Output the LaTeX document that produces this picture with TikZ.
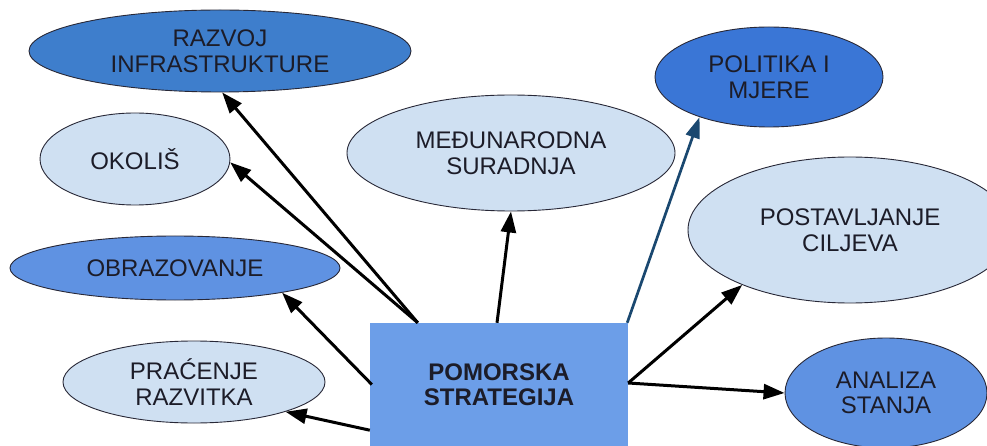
\documentclass[tikz,border=0pt]{standalone}
\usepackage{fontspec}
\setmainfont{Liberation Sans}
\usetikzlibrary{shapes.geometric,arrows.meta,calc}
\definecolor{darkblue}{RGB}{62,126,204}
\definecolor{polblue}{RGB}{58,118,214}
\definecolor{midblue}{RGB}{95,146,226}
\definecolor{lightblue}{RGB}{207,224,242}
\definecolor{rectblue}{RGB}{108,158,232}
\definecolor{txt}{RGB}{28,28,40}
\definecolor{edge}{RGB}{40,40,55}
\definecolor{teal}{RGB}{26,72,112}
\tikzset{
  oval/.style={ellipse, draw=edge, line width=0.9pt, inner sep=0pt, align=center,
    text=txt, font=\fontsize{24}{25.5}\selectfont},
  conn/.style={line width=3pt, draw=black, -{Triangle[length=21pt,width=15pt]}},
  tealconn/.style={line width=2.7pt, draw=teal, -{Triangle[length=21pt,width=14pt]}},
}
\begin{document}
\begin{tikzpicture}[x=1pt,y=-1pt]
\useasboundingbox (0,0) rectangle (987,446);
\fill[white] (0,0) rectangle (987,446);
% ellipses
\node[oval, fill=darkblue, minimum width=382pt, minimum height=82pt] (raz) at (220,51) {RAZVOJ\\INFRASTRUKTURE};
\node[oval, fill=lightblue, minimum width=190pt, minimum height=92pt] (oko) at (135,159) {OKOLIŠ};
\node[oval, fill=lightblue, minimum width=328pt, minimum height=116pt] (med) at (511,153) {MEĐUNARODNA\\SURADNJA};
\node[oval, fill=polblue, minimum width=228pt, minimum height=100pt] (pol) at (769,77) {POLITIKA I\\MJERE};
\node[oval, fill=lightblue, minimum width=324pt, minimum height=146pt] (pos) at (850,230) {POSTAVLJANJE\\CILJEVA};
\node[oval, fill=midblue, minimum width=330pt, minimum height=64pt] (obr) at (175,268) {OBRAZOVANJE};
\node[oval, fill=lightblue, minimum width=262pt, minimum height=82pt] (pra) at (194,382) {PRAĆENJE\\RAZVITKA};
\node[oval, fill=midblue, minimum width=202pt, minimum height=110pt] (ana) at (886,393) {ANALIZA\\STANJA};
% central rectangle
\node[rectangle, fill=rectblue, minimum width=258pt, minimum height=123pt, inner sep=0pt,
  align=center, text=txt, font=\bfseries\fontsize{24}{25.5}\selectfont] (s) at (499,384.5) {POMORSKA\\STRATEGIJA};
% start points
\coordinate (s1) at ($(s.north west)+(48,0)$);
\coordinate (s2) at ($(s.west)+(2,0)$);
\coordinate (s3) at ($(s.south west)+(0,-16)$);
\coordinate (s4) at ($(s.north)+(-2,0)$);
\coordinate (s5) at ($(s.north east)+(-1,0)$);
\coordinate (s6) at ($(s.east)+(0,-1.5)$);
% connectors
\draw[conn] (s1) -- (raz.-87);
\draw[conn] (s1) -- (oko.-2);
\draw[conn] (s2) -- (obr.-13);
\draw[conn] (s3) -- (pra.-18);
\draw[conn] (s4) -- (med.-90);
\draw[tealconn] (s5) -- (pol.-150);
\draw[conn] (s6) -- (pos.-153);
\draw[conn] (s6) -- (ana.west);
\end{tikzpicture}
\end{document}
